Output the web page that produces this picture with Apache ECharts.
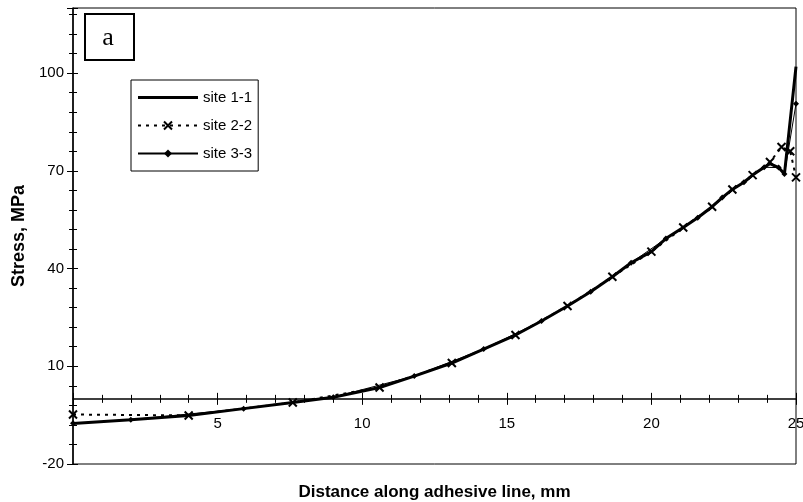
<!DOCTYPE html>
<html>
<head>
<meta charset="utf-8">
<script src="https://cdn.jsdelivr.net/npm/echarts@6/dist/echarts.min.js"></script>
<style>
  html, body { margin: 0; padding: 0; background: #fff; }
  #chart { width: 803px; height: 502px; }
</style>
</head>
<body>
<div id="chart"></div>
<script>
// distance along adhesive line (mm) and stress (MPa)
const site11X = [0, 2.0, 4.0, 5.9, 7.6, 9.0, 10.6, 11.8, 13.1, 14.2, 15.3, 16.2, 17.1, 17.9, 18.65, 19.3, 20.0, 20.5, 21.1, 21.6, 22.1, 22.45, 22.8, 23.2, 23.5, 23.9, 24.1, 24.4, 24.6, 25]
const site11Y = [-7.6, -6.4, -5.1, -3.0, -1.1, 0.5, 3.5, 7.0, 11.0, 15.3, 19.6, 23.9, 28.5, 32.9, 37.5, 41.8, 45.2, 49.2, 52.6, 55.6, 59.0, 61.8, 64.3, 66.5, 68.7, 71.1, 72.2, 71.0, 69.0, 102]

const site22X = [0, 4.0, 7.6, 10.6, 13.1, 15.3, 17.1, 18.65, 20.0, 21.1, 22.1, 22.8, 23.5, 24.1, 24.5, 24.8, 25]
const site22Y = [-4.8, -5.1, -1.1, 3.5, 11.0, 19.6, 28.5, 37.5, 45.2, 52.6, 59.0, 64.3, 68.7, 72.7, 77.3, 76.0, 68.0]

const site33X = [0, 2.0, 5.9, 9.0, 11.8, 14.2, 16.2, 17.9, 19.3, 20.5, 21.6, 22.45, 23.2, 23.9, 24.4, 24.6, 25]
const site33Y = [-7.5, -6.4, -3.0, 0.5, 7.0, 15.3, 23.9, 32.9, 41.8, 49.2, 55.6, 61.8, 66.5, 71.1, 71.0, 69.0, 90.6]

const xLabels = [5, 10, 15, 20, 25]
const yLabels = [-20, 10, 40, 70, 100]

const zip = (xs, ys) => xs.map((x, i) => [x, ys[i]])

const font = 'Liberation Sans, Arial, sans-serif'
const black = '#000'

var myChart = echarts.init(document.getElementById('chart'))
var option

option = {
  animation: false,
  backgroundColor: '#fff',
  textStyle: { fontFamily: font, color: black },
  grid: {
    left: 73, right: 7, top: 8, bottom: 38,
    containLabel: false,
    outerBoundsMode: 'none',
    show: true,
    borderColor: black,
    borderWidth: 1
  },
  legend: {
    orient: 'vertical',
    left: 131,
    top: 80,
    padding: [10, 6, 10, 6],
    itemWidth: 60,
    itemHeight: 10,
    itemGap: 13,
    borderColor: black,
    borderWidth: 1,
    backgroundColor: '#fff',
    textStyle: { fontSize: 15, color: black, fontFamily: font },
    data: [
      // solid series has no marker: draw its key as a plain thick bar
      { name: 'site 1-1', icon: 'path://M0,0H60V3H0Z' },
      { name: 'site 2-2' },
      { name: 'site 3-3' }
    ]
  },
  xAxis: [
    {
      type: 'value',
      min: 0, max: 25, interval: 5,
      position: 'bottom',
      axisLine: { onZero: true, lineStyle: { color: black, width: 1.5 } },
      axisTick: { length: 6, lineStyle: { color: black } },
      minorTick: { show: true, splitNumber: 5, length: 4, lineStyle: { color: black } },
      // labels stay at the grid bottom here, so pull them up under the zero line
      axisLabel: { customValues: xLabels, color: black, fontSize: 15, margin: -48 },
      splitLine: { show: false },
      name: 'Distance along adhesive line, mm',
      nameLocation: 'middle',
      nameGap: 20,
      nameTextStyle: { fontWeight: 'bold', fontSize: 17, color: black }
    },
    {
      // same scale, ticks pointing up so they cross the axis line
      type: 'value',
      min: 0, max: 25, interval: 5,
      position: 'bottom',
      axisLine: { show: false, onZero: true },
      axisTick: { inside: true, length: 6, lineStyle: { color: black } },
      minorTick: { show: true, splitNumber: 5, length: 4, lineStyle: { color: black } },
      axisLabel: { show: false },
      splitLine: { show: false }
    }
  ],
  yAxis: [
    {
      type: 'value',
      min: -20, max: 120, interval: 30,
      position: 'left',
      axisLine: { show: true, onZero: false, lineStyle: { color: black, width: 1.5 } },
      axisTick: { show: true, length: 6, lineStyle: { color: black } },
      minorTick: { show: true, splitNumber: 5, length: 4, lineStyle: { color: black } },
      axisLabel: { customValues: yLabels, color: black, fontSize: 15, margin: 9 },
      splitLine: { show: false },
      name: 'Stress, MPa',
      nameLocation: 'middle',
      nameGap: 44,
      nameTextStyle: { fontWeight: 'bold', fontSize: 18, color: black }
    },
    {
      type: 'value',
      min: -20, max: 120, interval: 30,
      position: 'left',
      axisLine: { show: false, onZero: false },
      axisTick: { show: true, inside: true, length: 5, lineStyle: { color: black } },
      minorTick: { show: true, splitNumber: 5, length: 4, lineStyle: { color: black } },
      axisLabel: { show: false },
      splitLine: { show: false }
    }
  ],
  graphic: [
    {
      type: 'rect',
      shape: { x: 85, y: 14, width: 49, height: 46 },
      style: { fill: '#fff', stroke: black, lineWidth: 2 },
      z: 100
    },
    {
      type: 'text',
      x: 108, y: 38,
      style: {
        text: 'a',
        font: '26px "Liberation Serif", "Times New Roman", serif',
        fill: black,
        align: 'center',
        verticalAlign: 'middle'
      },
      z: 101
    }
  ],
  series: [
    {
      name: 'site 1-1',
      type: 'line',
      data: zip(site11X, site11Y),
      symbol: 'none',
      lineStyle: { color: black, width: 3 },
      itemStyle: { color: black }
    },
    {
      name: 'site 2-2',
      type: 'line',
      data: zip(site22X, site22Y),
      symbol: 'path://M0,0L10,10M10,0L0,10',
      symbolSize: 8,
      showSymbol: true,
      itemStyle: { color: black, borderColor: black, borderWidth: 2 },
      lineStyle: { color: black, width: 2, type: [3, 5] }
    },
    {
      name: 'site 3-3',
      type: 'line',
      data: zip(site33X, site33Y),
      symbol: 'diamond',
      symbolSize: 6,
      showSymbol: true,
      itemStyle: { color: black },
      lineStyle: { color: black, width: 1 }
    }
  ]
}

option && myChart.setOption(option)
</script>
</body>
</html>
